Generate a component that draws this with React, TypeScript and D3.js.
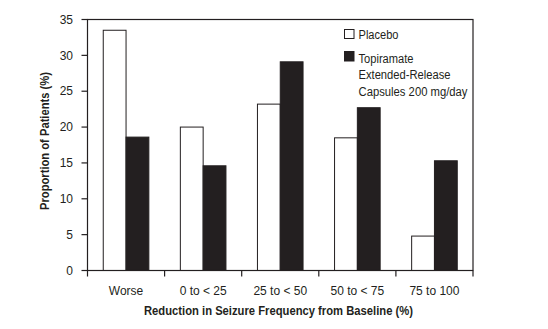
import React from "react";
import * as d3 from "d3";

const categories = ["Worse", "0 to < 25", "25 to < 50", "50 to < 75", "75 to 100"];
const seriesNames = ["Placebo", "Topiramate Extended-Release Capsules 200 mg/day"];
const placebo = [33.5, 20.0, 23.2, 18.5, 4.8];
const topiramate = [18.6, 14.6, 29.1, 22.7, 15.3];
const yTicks = [0, 5, 10, 15, 20, 25, 30, 35];

const W = 548, H = 329;
const left = 87.5, right = 473, top = 19.5, bottom = 270.5;
const FONT = "'Liberation Sans Narrow', 'Arial Narrow', 'Liberation Sans', Arial, sans-serif";

export default function App() {
  const x = d3.scaleBand<string>().domain(categories).range([left, right]).padding(0);
  const y = d3.scaleLinear().domain([0, 35]).range([bottom, top]);
  const bw = 22.8;
  const series = [
    { name: seriesNames[0], values: placebo, fill: "#ffffff" },
    { name: seriesNames[1], values: topiramate, fill: "#231f20" },
  ];
  const boundaries = [...categories.map((c) => x(c)!), right];
  const adj = { lengthAdjust: "spacingAndGlyphs" as const };
  return (
    <svg width={W} height={H} style={{ position: "absolute", left: 0, top: 0, background: "#fff" }} fontFamily={FONT}>
      <rect x={0} y={0} width={W} height={H} fill="#fff" />
      {series.map((s, si) =>
        s.values.map((v, i) => {
          const cx = x(categories[i])! + x.bandwidth() / 2;
          const bx = cx - bw + si * bw;
          return (
            <rect key={`${si}-${i}`} x={bx} y={y(v)} width={bw} height={bottom - y(v)}
              fill={s.fill} stroke="#231f20" strokeWidth={1} />
          );
        })
      )}
      <rect x={left} y={top} width={right - left} height={bottom - top} fill="none" stroke="#231f20" strokeWidth={1.2} />
      {yTicks.map((t) => (
        <g key={t}>
          <line x1={left - 6} x2={left} y1={y(t)} y2={y(t)} stroke="#231f20" strokeWidth={1.2} />
          <text x={73} y={y(t)} dy="0.35em" textAnchor="end" fontSize={12} fill="#231f20">{t}</text>
        </g>
      ))}
      {boundaries.map((b, i) => (
        <line key={i} x1={b} x2={b} y1={bottom} y2={bottom + 6} stroke="#231f20" strokeWidth={1.2} />
      ))}
      {categories.map((c) => (
        <text key={c} x={x(c)! + x.bandwidth() / 2} y={295} textAnchor="middle" fontSize={12} fill="#231f20">{c}</text>
      ))}
      <text x={144} y={315} fontSize={12.5} fontWeight="bold" fill="#231f20" textLength={269} {...adj}>
        Reduction in Seizure Frequency from Baseline (%)
      </text>
      <text transform={`translate(49, 210) rotate(-90)`} fontSize={12.5} fontWeight="bold" fill="#231f20" textLength={138} {...adj}>
        Proportion of Patients (%)
      </text>
      <rect x={344.5} y={29.5} width={9.5} height={9} fill="#fff" stroke="#231f20" strokeWidth={1} />
      <text x={358.5} y={38.5} fontSize={12.5} fill="#231f20" textLength={40} {...adj}>Placebo</text>
      <rect x={344.5} y={51.5} width={9.5} height={9.5} fill="#231f20" stroke="#231f20" strokeWidth={1} />
      <text x={358.5} y={62.5} fontSize={12.5} fill="#231f20" textLength={55} {...adj}>Topiramate</text>
      <text x={358.5} y={79} fontSize={12.5} fill="#231f20" textLength={92} {...adj}>Extended-Release</text>
      <text x={358.5} y={95.8} fontSize={12.5} fill="#231f20" textLength={109} {...adj}>Capsules 200 mg/day</text>
    </svg>
  );
}
